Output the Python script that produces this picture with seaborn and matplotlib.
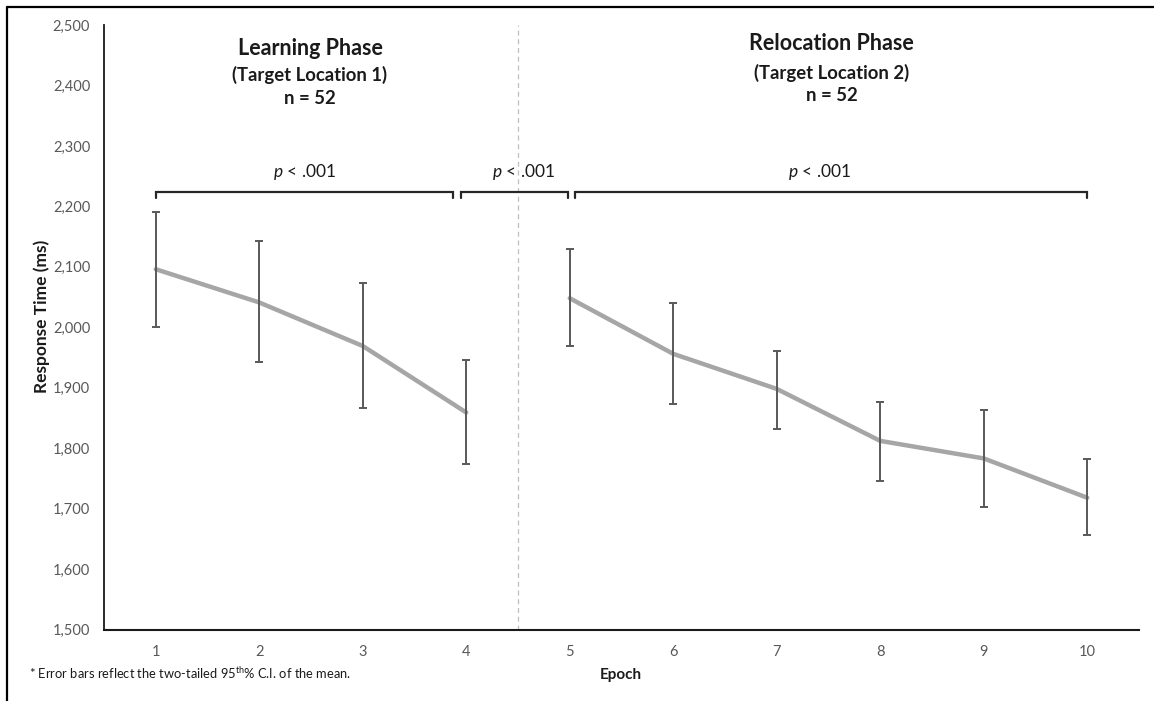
import numpy as np
import pandas as pd
import matplotlib
matplotlib.use("Agg")
import matplotlib.pyplot as plt
from matplotlib.lines import Line2D
import seaborn as sns

# Mean response time per epoch with 95% CI bounds
epochs = [1, 2, 3, 4, 5, 6, 7, 8, 9, 10]
phases = ["Learning"] * 4 + ["Relocation"] * 6
rt_mean = [2096, 2041, 1969, 1859, 2048, 1956, 1898, 1812, 1783, 1718]
ci_low = [2001, 1943, 1866, 1773, 1969, 1873, 1832, 1746, 1703, 1656]
ci_high = [2190, 2142, 2073, 1946, 2129, 2040, 1961, 1877, 1863, 1782]
y_ticks = [1500, 1600, 1700, 1800, 1900, 2000, 2100, 2200, 2300, 2400, 2500]
y_tick_labels = ["1,500", "1,600", "1,700", "1,800", "1,900", "2,000",
                 "2,100", "2,200", "2,300", "2,400", "2,500"]

# Significance brackets: (start epoch, end epoch, label centre)
brackets = [(1.0, 3.87, 2.44), (3.95, 4.98, 4.55), (5.05, 10.0, 7.41)]
bracket_y = 2223
pval_text = r"$\mathit{p}$ < .001"

df = pd.DataFrame({"epoch": epochs, "rt": rt_mean, "phase": phases})

sns.set_style("white")
plt.rcParams["font.family"] = ["Lato", "DejaVu Sans"]
plt.rcParams["mathtext.fontset"] = "custom"
plt.rcParams["mathtext.rm"] = "Lato"
plt.rcParams["mathtext.it"] = "Lato:italic"
plt.rcParams["mathtext.bf"] = "Lato:bold"

fig = plt.figure(figsize=(11.54, 7.01), dpi=100)
ax = fig.add_axes([104 / 1154, 1 - 629.5 / 701, 1035 / 1154, 604.5 / 701])

sns.lineplot(data=df, x="epoch", y="rt", units="phase", estimator=None,
             color="#A6A6A6", linewidth=3.2, ax=ax, zorder=3)

err = [np.array(rt_mean) - np.array(ci_low), np.array(ci_high) - np.array(rt_mean)]
ax.errorbar(epochs, rt_mean, yerr=err, fmt="none", ecolor="#595959",
            elinewidth=1.4, capsize=3.2, capthick=1.4, zorder=4)

# phase divider
ax.axvline(4.5, color="#BFBFBF", linewidth=0.9, linestyle=(0, (4, 3)), zorder=1)

# brackets with p-values
for x0, x1, xc in brackets:
    ax.plot([x0, x0, x1, x1], [bracket_y - 9, bracket_y, bracket_y, bracket_y - 9],
            color="#262626", linewidth=1.6, solid_joinstyle="miter", zorder=5)
    ax.text(xc, 2257, pval_text, ha="center", va="center", fontsize=12.5,
            color="#1a1a1a")

# phase headings
head_kw = dict(ha="center", va="center", fontweight="bold", color="#1a1a1a")
ax.text(2.49, 2461, "Learning Phase", fontsize=15.5, **head_kw)
ax.text(2.49, 2418, "(Target Location 1)", fontsize=13.3, **head_kw)
ax.text(2.49, 2379, "n = 52", fontsize=13.3, **head_kw)
ax.text(7.53, 2469, "Relocation Phase", fontsize=15.5, **head_kw)
ax.text(7.53, 2420, "(Target Location 2)", fontsize=13.3, **head_kw)
ax.text(7.53, 2383, "n = 52", fontsize=13.3, **head_kw)

ax.set_xlim(0.5, 10.5)
ax.set_ylim(1500, 2500)
ax.set_xticks(epochs)
ax.set_xticklabels([str(e) for e in epochs])
ax.set_yticks(y_ticks)
ax.set_yticklabels(y_tick_labels)
ax.tick_params(axis="both", length=0, labelsize=10.5, labelcolor="#595959")
ax.tick_params(axis="x", pad=11)
ax.tick_params(axis="y", pad=10)

ax.set_xlabel("Epoch", fontsize=11, fontweight="bold", color="#1a1a1a")
ax.set_ylabel("Response Time (ms)", fontsize=12.5, fontweight="bold", color="#1a1a1a")
ax.xaxis.set_label_coords(0.4995, -0.075)
ax.xaxis.label.set_va("center")
ax.yaxis.set_label_coords(-0.06, 0.518)
ax.yaxis.label.set_va("center")

for side in ["top", "right"]:
    ax.spines[side].set_visible(False)
ax.spines["left"].set_color("#1a1a1a")
ax.spines["left"].set_linewidth(1.3)
ax.spines["bottom"].set_color("#1a1a1a")
ax.spines["bottom"].set_linewidth(1.5)

fig.text(29 / 1154, 1 - 673 / 701,
         r"* Error bars reflect the two-tailed 95$^{\mathrm{th}}$% C.I. of the mean.",
         ha="left", va="center", fontsize=9.3, color="#1a1a1a")

# outer frame (top and left edges)
fig.add_artist(Line2D([7 / 1154, 1.0], [1 - 7 / 701, 1 - 7 / 701],
                      transform=fig.transFigure, color="black", linewidth=1.6))
fig.add_artist(Line2D([7 / 1154, 7 / 1154], [0.0, 1 - 7 / 701],
                      transform=fig.transFigure, color="black", linewidth=1.6))

fig.savefig("out.png", dpi=100)
